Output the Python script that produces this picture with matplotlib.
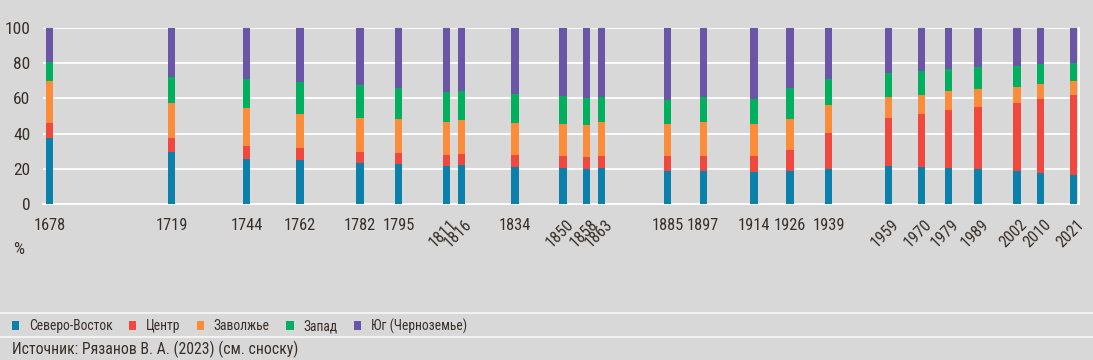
import matplotlib
matplotlib.use("Agg")
import matplotlib.pyplot as plt
import matplotlib.transforms as mtransforms
import numpy as np

plt.rcParams['font.family'] = ['Roboto Condensed', 'DejaVu Sans']

years = [1678, 1719, 1744, 1762, 1782, 1795, 1811, 1816, 1834, 1850, 1858, 1863,
         1885, 1897, 1914, 1926, 1939, 1959, 1970, 1979, 1989, 2002, 2010, 2021]
rotated_years = [1811, 1816, 1850, 1858, 1863, 1959, 1970, 1979, 1989, 2002, 2010, 2021]

# cumulative tops
cum_ne = [37.7, 29.4, 25.6, 25.2, 23.3, 22.7, 21.8, 22.2, 21.0, 20.5, 20.1, 20.5,
          18.9, 18.9, 18.2, 18.8, 20.1, 21.6, 20.8, 20.5, 19.9, 18.8, 17.6, 16.5]
cum_c = [45.8, 37.5, 33.1, 32.0, 29.7, 29.1, 27.8, 28.6, 27.7, 27.1, 26.7, 27.4,
         27.1, 27.4, 27.3, 30.7, 40.5, 48.7, 51.3, 53.6, 54.9, 57.2, 59.7, 61.8]
cum_v = [69.9, 57.2, 54.4, 51.3, 48.9, 48.3, 46.6, 47.5, 46.0, 45.6, 45.1, 46.4,
         45.3, 46.8, 45.6, 48.3, 56.1, 60.8, 62.1, 64.0, 65.3, 66.7, 68.4, 69.9]
cum_w = [80.5, 72.2, 71.2, 69.5, 67.4, 66.1, 63.8, 64.0, 62.3, 61.2, 60.2, 60.8,
         59.3, 60.8, 59.7, 66.1, 71.0, 74.6, 75.6, 76.7, 77.8, 78.4, 79.4, 80.1]

north_east = np.array(cum_ne)
center = np.array(cum_c) - np.array(cum_ne)
volga = np.array(cum_v) - np.array(cum_c)
west = np.array(cum_w) - np.array(cum_v)
south = 100 - np.array(cum_w)

series = [north_east, center, volga, west, south]
names = ['Северо-Восток', 'Центр', 'Заволжье', 'Запад', 'Юг (Черноземье)']
colors = ['#0a80aa', '#f0483f', '#fa8c3a', '#00b05e', '#6a55a6']

bg = '#d8d8d8'
txt = '#3a3029'

fig = plt.figure(figsize=(10.93, 3.6), dpi=100, facecolor=bg)
ax = fig.add_axes([43/1093, 1-204/360, (1079-43)/1093, (204-28)/360])
ax.set_facecolor(bg)

bottom = np.zeros(len(years))
handles = []
for s, n, c in zip(series, names, colors):
    h = ax.bar(years, s, bottom=bottom, width=2.45, color=c, label=n, zorder=3, linewidth=0)
    handles.append(h)
    bottom += s

ax.set_ylim(0, 100)
ax.set_xlim(1675.9, 2022.8)
ax.set_yticks([0, 20, 40, 60, 80, 100])
ax.yaxis.grid(True, color='white', linewidth=1.3, zorder=0)
ax.set_axisbelow(True)
for sp in ['top', 'left']:
    ax.spines[sp].set_visible(False)
for sp in ['bottom', 'right']:
    ax.spines[sp].set_color('white')
    ax.spines[sp].set_linewidth(1.3)

ax.tick_params(axis='y', length=0, pad=9, labelsize=12.5, labelcolor=txt)
ax.set_xticks(years)
ax.set_xticklabels([str(y) for y in years])
ax.tick_params(axis='x', length=0, pad=10, labelsize=11.8, labelcolor=txt)
offset = mtransforms.ScaledTranslation(3/100, 1/100, fig.dpi_scale_trans)
for lbl, y in zip(ax.get_xticklabels(), years):
    if y in rotated_years:
        lbl.set_rotation(45)
        lbl.set_rotation_mode('anchor')
        lbl.set_ha('right')
        lbl.set_va('top')
        lbl.set_transform(lbl.get_transform() + offset)

fig.text(13/1093, 1-250/360, '%', fontsize=12.5, color=txt, va='center', ha='left')

fig.add_artist(plt.Line2D([0, 1], [1-313/360, 1-313/360], color='#f2f2f2', linewidth=1.5, transform=fig.transFigure))
fig.add_artist(plt.Line2D([0, 1], [1-337/360, 1-337/360], color='#f2f2f2', linewidth=1.5, transform=fig.transFigure))

fig.legend(handles=handles, labels=names, ncol=5, loc='center left',
           bbox_to_anchor=(12/1093, 1-326/360), frameon=False,
           borderpad=0, borderaxespad=0,
           handlelength=0.55, handleheight=0.55, handletextpad=0.7,
           columnspacing=1.2, fontsize=9.8, labelcolor=txt)

fig.text(12/1093, 1-349/360, 'Источник: Рязанов В. А. (2023) (см. сноску)',
         fontsize=11.3, color=txt, va='center', ha='left')

fig.savefig('out.png', dpi=100, facecolor=bg)
